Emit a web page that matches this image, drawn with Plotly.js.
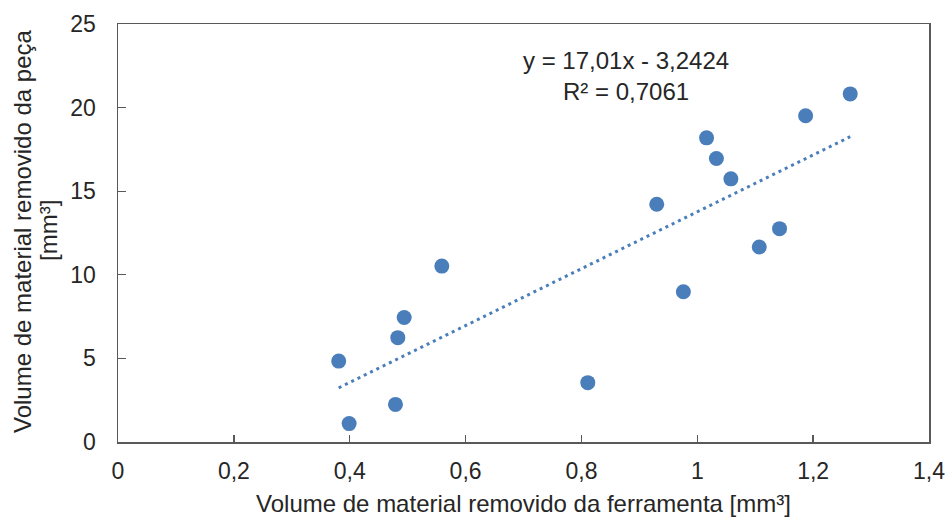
<!DOCTYPE html>
<html>
<head>
<meta charset="utf-8">
<script src="https://cdn.plot.ly/plotly-3.0.1.min.js"></script>
<style>html,body{margin:0;padding:0;background:#fff;}#chart{width:949px;height:517px;}</style>
</head>
<body>
<div id="chart"></div>
<script>
// Volume removed from tool (x) vs. from part (y), mm³
const toolVolume = [0.381, 0.399, 0.479, 0.483, 0.494, 0.559, 0.811, 0.930, 0.976, 1.016, 1.033, 1.058, 1.107, 1.142, 1.187, 1.264];
const partVolume = [4.84, 1.10, 2.25, 6.24, 7.45, 10.52, 3.55, 14.22, 8.99, 18.19, 16.96, 15.74, 11.66, 12.76, 19.51, 20.82];
// Linear trendline coefficients shown on the chart
const slope = 17.01;
const intercept = -3.2424;
const rSquared = 0.7061;
// Axis titles
const xTitle = 'Volume de material removido da ferramenta [mm³]';
const yTitleLines = ['Volume de material removido da peça', '[mm³]'];

const xMin = Math.min(...toolVolume);
const xMax = Math.max(...toolVolume);
const trendX = [xMin, xMax];
const trendY = trendX.map(v => slope * v + intercept);

const blue = '#4A7EBB';
const textColor = '#262626';
const fontFam = 'Arial, "Liberation Sans", sans-serif';

const data = [
  {
    x: trendX, y: trendY, type: 'scatter', mode: 'lines',
    line: {color: blue, width: 3, dash: '3px,4px'},
    hoverinfo: 'skip', showlegend: false
  },
  {
    x: toolVolume, y: partVolume, type: 'scatter', mode: 'markers',
    marker: {color: blue, size: 15, line: {width: 0}},
    showlegend: false
  }
];

const fmt = v => v.toString().replace('.', ',');

const layout = {
  width: 949, height: 517,
  margin: {l: 118, r: 20, t: 24, b: 75},
  paper_bgcolor: '#ffffff', plot_bgcolor: '#ffffff',
  separators: ', ',
  font: {family: fontFam, size: 23, color: textColor},
  xaxis: {
    range: [0, 1.4], dtick: 0.2, tick0: 0,
    showgrid: false, zeroline: false,
    showline: true, mirror: true, linecolor: '#595959', linewidth: 1.5,
    ticks: 'inside', ticklen: 7, tickwidth: 1.3, tickcolor: '#595959',
    tickfont: {size: 23, color: textColor},
    ticklabelstandoff: 8,
    title: {text: xTitle, font: {size: 24, color: textColor}, standoff: 12}
  },
  yaxis: {
    range: [0, 25], dtick: 5, tick0: 0,
    showgrid: false, zeroline: false,
    showline: true, mirror: true, linecolor: '#595959', linewidth: 1.5,
    ticks: 'inside', ticklen: 8, tickwidth: 1.3, tickcolor: '#595959',
    tickfont: {size: 23, color: textColor},
    ticklabelstandoff: 16
  },
  annotations: [
    {
      xref: 'paper', yref: 'paper', x: 0.626, y: 0.876,
      xanchor: 'center', yanchor: 'middle', showarrow: false, align: 'center',
      text: 'y = ' + fmt(slope) + 'x - ' + fmt(-intercept) + '<br>R² = ' + fmt(rSquared),
      font: {size: 24, color: textColor}
    },
    {
      xref: 'paper', yref: 'paper', x: -0.117, y: 0.505,
      xanchor: 'center', yanchor: 'middle', showarrow: false, textangle: -90,
      text: yTitleLines[0], font: {size: 24, color: textColor}
    },
    {
      xref: 'paper', yref: 'paper', x: -0.085, y: 0.505,
      xanchor: 'center', yanchor: 'middle', showarrow: false, textangle: -90,
      text: yTitleLines[1], font: {size: 24, color: textColor}
    }
  ]
};

Plotly.newPlot('chart', data, layout, {displayModeBar: false, staticPlot: true});
</script>
</body>
</html>
